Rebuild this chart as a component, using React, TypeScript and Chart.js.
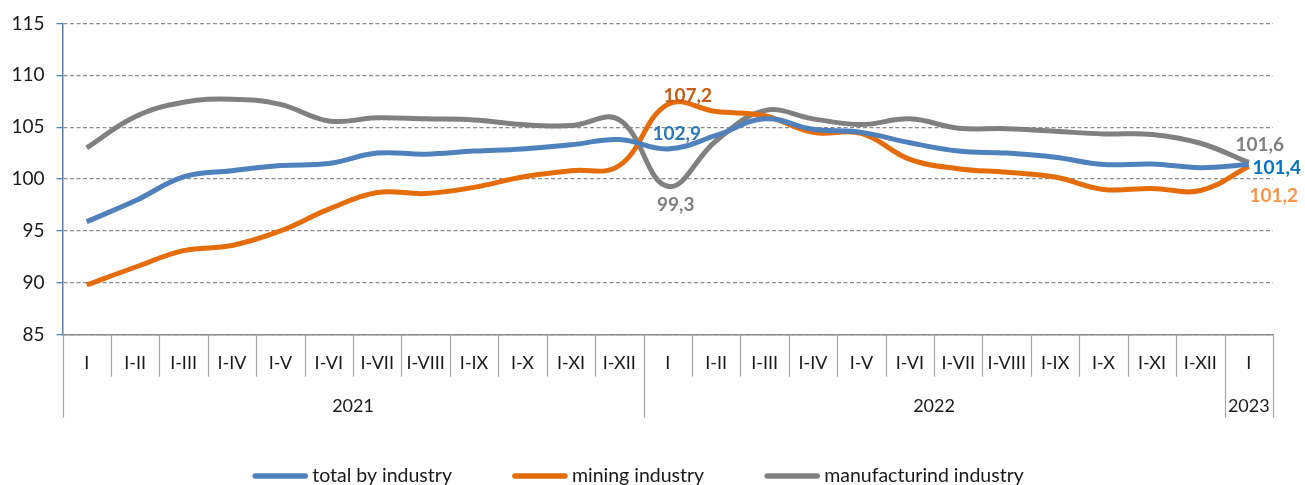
import React, { useEffect, useRef } from "react";
import { Chart, registerables } from "chart.js";

Chart.register(...registerables);

const categories = [
  "I", "I-II", "I-III", "I-IV", "I-V", "I-VI", "I-VII", "I-VIII", "I-IX", "I-X", "I-XI", "I-XII",
  "I", "I-II", "I-III", "I-IV", "I-V", "I-VI", "I-VII", "I-VIII", "I-IX", "I-X", "I-XI", "I-XII",
  "I",
];
const yearLabels = ["2021", "2022", "2023"];
const yearSpans = [12, 12, 1];

const seriesNames = ["total by industry", "mining industry", "manufacturind industry"];
const totalByIndustry = [
  95.9, 97.9, 100.2, 100.8, 101.3, 101.5, 102.5, 102.4, 102.7, 102.9, 103.3, 103.8,
  102.9, 104.2, 105.8, 104.8, 104.5, 103.5, 102.7, 102.5, 102.1, 101.4, 101.45, 101.1,
  101.4,
];
const miningIndustry = [
  89.8, 91.5, 93.1, 93.6, 95.0, 97.1, 98.7, 98.6, 99.2, 100.2, 100.8, 101.3,
  107.2, 106.5, 106.1, 104.5, 104.4, 101.9, 101.0, 100.65, 100.2, 99.0, 99.1, 98.9,
  101.2,
];
const manufacturingIndustry = [
  103.0, 106.0, 107.4, 107.7, 107.2, 105.6, 105.9, 105.8, 105.7, 105.25, 105.15, 105.7,
  99.3, 103.7, 106.6, 105.8, 105.25, 105.8, 104.9, 104.85, 104.6, 104.35, 104.3, 103.45,
  101.6,
];
const yMin = 85;
const yMax = 115;
const yStep = 5;

const seriesColors = ["#4f81bd", "#e46c0a", "#808080"];

// data labels: [datasetIndex, pointIndex, color, dx, dy]
const dataLabels: [number, number, string, number, number][] = [
  [1, 12, "#c55a11", 20, -8],
  [0, 12, "#2e75b6", 9, -15],
  [2, 12, "#7f7f7f", 8, 19],
  [2, 24, "#7f7f7f", 11, -18],
  [0, 24, "#0070c0", 28, 3],
  [1, 24, "#f79646", 25, 29],
];

const FONT = "Lato, 'Open Sans', sans-serif";

const fmt = (v: number) => v.toFixed(1).replace(".", ",");

const customPlugin = {
  id: "customDraw",
  afterDatasetsDraw(chart: any) {
    const ctx = chart.ctx;
    ctx.save();
    ctx.font = `bold 19px ${FONT}`;
    ctx.textAlign = "center";
    ctx.textBaseline = "middle";
    const ds = [totalByIndustry, miningIndustry, manufacturingIndustry];
    for (const [d, i, color, dx, dy] of dataLabels) {
      const pt = chart.getDatasetMeta(d).data[i];
      ctx.fillStyle = color;
      ctx.fillText(fmt(ds[d][i]), pt.x + dx, pt.y + dy);
    }
    ctx.restore();
  },
  afterDraw(chart: any) {
    const ctx = chart.ctx;
    const area = chart.chartArea;
    const xs = chart.scales.x;
    const n = categories.length;
    const w = (area.right - area.left) / n;
    const y0 = area.bottom;
    ctx.save();
    const yearBounds = new Set<number>();
    let acc = 0;
    yearBounds.add(0);
    for (const s of yearSpans) {
      acc += s;
      yearBounds.add(acc);
    }
    ctx.strokeStyle = "#a6a6a6";
    ctx.lineWidth = 1.2;
    for (let b = 0; b <= n; b++) {
      const x = Math.round(area.left + b * w) + 0.5;
      const len = yearBounds.has(b) ? 83 : 42;
      ctx.beginPath();
      ctx.moveTo(x, y0);
      ctx.lineTo(x, y0 + len);
      ctx.stroke();
    }
    ctx.fillStyle = "#1a1a1a";
    ctx.font = `18px ${FONT}`;
    ctx.textAlign = "center";
    ctx.textBaseline = "middle";
    categories.forEach((c, i) => {
      ctx.fillText(c, xs.getPixelForValue(i), y0 + 28);
    });
    acc = 0;
    yearLabels.forEach((yl, k) => {
      const start = area.left + acc * w;
      acc += yearSpans[k];
      const end = area.left + acc * w;
      ctx.fillText(yl, (start + end) / 2, y0 + 71);
    });
    ctx.font = `19.5px ${FONT}`;
    ctx.textAlign = "left";
    const lineLen = 56;
    const gapText = 4;
    const gapItem = 60;
    const widths = seriesNames.map((s) => lineLen + gapText + ctx.measureText(s).width);
    const total = widths.reduce((a, b) => a + b, 0) + gapItem * (widths.length - 1);
    let x = 638 - total / 2;
    const ly = 476;
    seriesNames.forEach((s, k) => {
      ctx.strokeStyle = seriesColors[k];
      ctx.lineWidth = 5.5;
      ctx.lineCap = "round";
      ctx.beginPath();
      ctx.moveTo(x + 3, ly);
      ctx.lineTo(x + lineLen - 3, ly);
      ctx.stroke();
      ctx.fillStyle = "#1a1a1a";
      ctx.fillText(s, x + lineLen + gapText, ly);
      x += widths[k] + gapItem;
    });
    ctx.restore();
  },
};

export default function App() {
  const ref = useRef<HTMLCanvasElement | null>(null);
  useEffect(() => {
    document.body.style.margin = "0";
    const canvas = ref.current;
    if (!canvas) return;
    const series = [totalByIndustry, miningIndustry, manufacturingIndustry];
    const chart = new Chart(canvas, {
      type: "line",
      data: {
        labels: categories,
        datasets: series.map((data, k) => ({
          label: seriesNames[k],
          data,
          borderColor: seriesColors[k],
          backgroundColor: seriesColors[k],
          borderWidth: 5,
          pointRadius: 0,
          tension: 0.4,
          fill: false,
        })),
      },
      options: {
        responsive: false,
        animation: false,
        devicePixelRatio: 1,
        layout: { padding: { top: 22.7, right: 32, bottom: 0, left: 0 } },
        plugins: {
          legend: { display: false },
          tooltip: { enabled: false },
        },
        scales: {
          x: {
            type: "category",
            offset: true,
            grid: { display: false },
            ticks: { display: false },
            border: { display: true, color: "#8c8c8c", width: 1.5 },
            afterFit: (axis: any) => {
              axis.height = 150.3;
            },
          },
          y: {
            min: yMin,
            max: yMax,
            ticks: {
              stepSize: yStep,
              padding: 12,
              color: "#1a1a1a",
              font: { family: FONT, size: 19 },
            },
            grid: {
              color: "#8c8c8c",
              lineWidth: 1.3,
              tickColor: "#4f81bd",
              tickLength: 6,
              drawTicks: true,
            },
            border: { display: true, color: "#4f81bd", width: 1.5, dash: [4, 2.5] },
            afterFit: (axis: any) => {
              axis.width = 62.5;
            },
          },
        },
      },
      plugins: [customPlugin],
    } as any);
    return () => chart.destroy();
  }, []);
  return (
    <div style={{ width: 1305, height: 485 }}>
      <canvas ref={ref} width={1305} height={485} style={{ display: "block" }} />
    </div>
  );
}
